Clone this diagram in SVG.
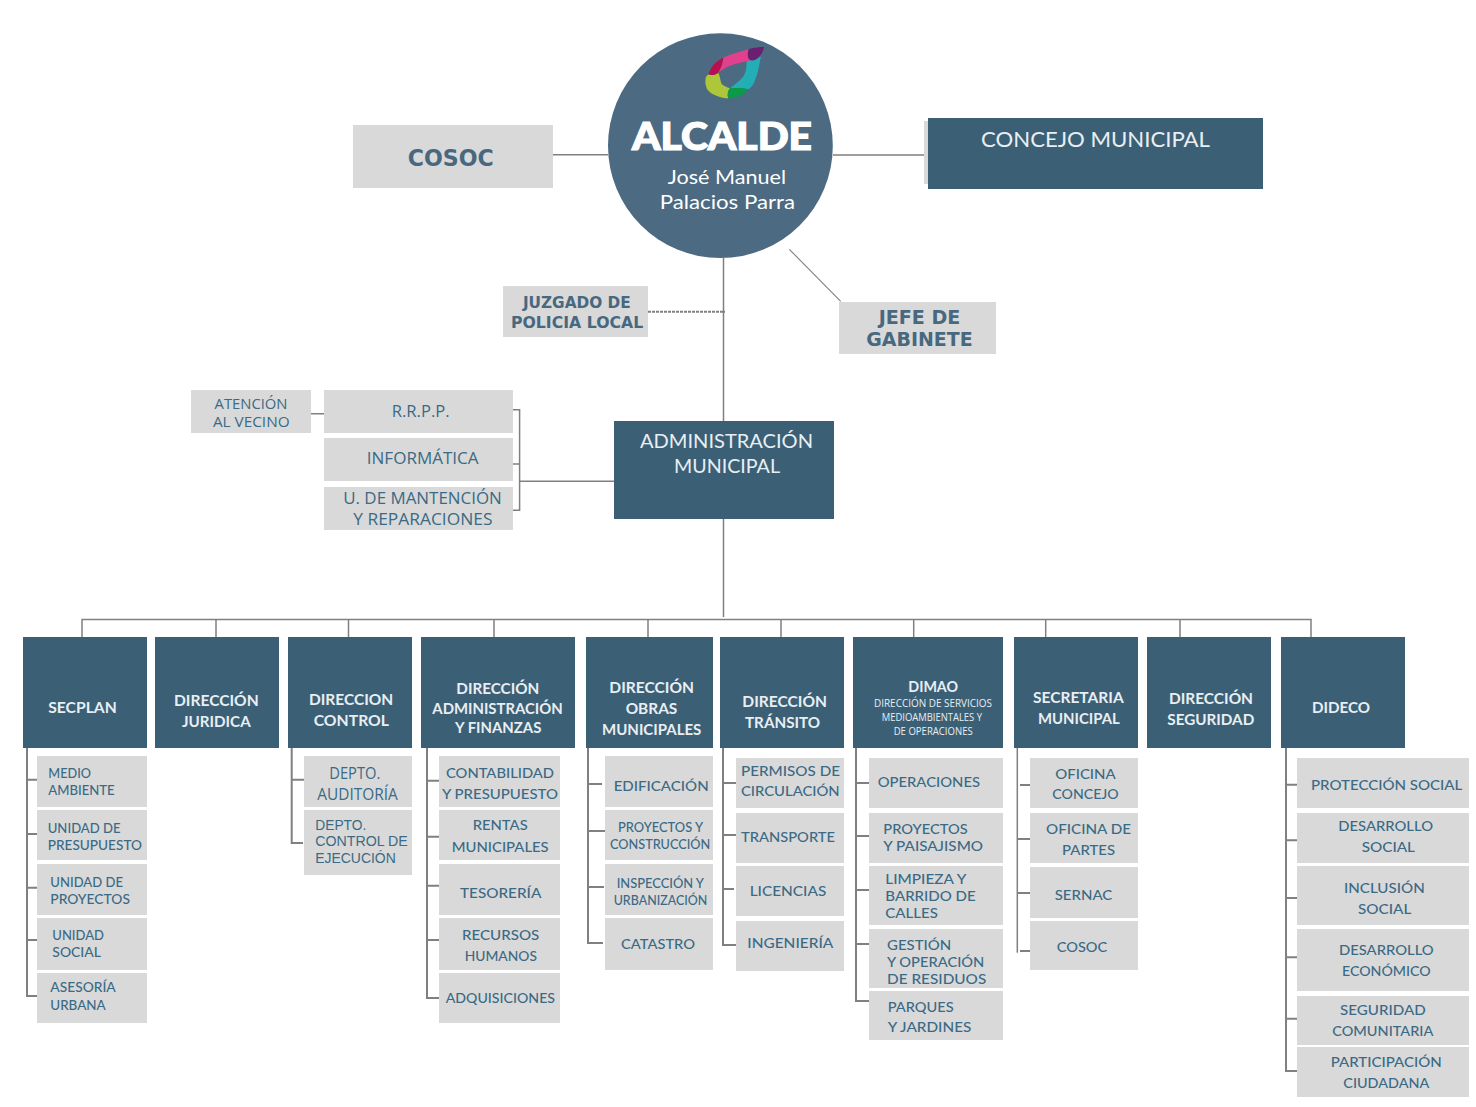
<svg xmlns="http://www.w3.org/2000/svg" width="1476" height="1107" viewBox="0 0 1476 1107">
<style>
.h{fill:#3b6076}.g{fill:#d9d9d9}
text{text-anchor:start}
.hd{font:700 15px Lato,"Liberation Sans",sans-serif;fill:#e9eef3;transform:translateY(.8px)}
.hs{font:400 10px "Open Sans","Liberation Sans",sans-serif;fill:#e9eef3;transform:translateY(.3px)}
.hl{font:400 21px Lato,"Liberation Sans",sans-serif;fill:#e9eef3;transform:translateY(.5px)}
.s{font:500 14px Lato,"Liberation Sans",sans-serif;fill:#3a6a85;transform:translateY(.3px)}
.sm{font:500 12.5px Lato,"Liberation Sans",sans-serif;fill:#3a6a85;transform:translateY(.3px)}
.t{font:400 15.5px "Open Sans","Liberation Sans",sans-serif;fill:#3a6a85}
.a{font:400 15px "Open Sans","Liberation Sans",sans-serif;fill:#3a6a85}
.l{font:400 14px "Liberation Sans",sans-serif;fill:#3a6a85}
.b{font:700 18px "DejaVu Sans",sans-serif;fill:#47687f;transform:translateY(.3px)}
.w{font:400 20px Lato,"Liberation Sans",sans-serif;fill:#fff;transform:translateY(.8px)}
.c{stroke:#808080;stroke-width:1.5;fill:none}
.c1{stroke:#808080;stroke-width:1.1;fill:none}
.d{stroke:#808080;stroke-width:2;stroke-dasharray:3 1;fill:none}
.c2{stroke:#808080;stroke-width:2;fill:none}
</style>
<g id="connectors">
<path class="c" d="M553 154.7H608M833 155H924M723.5 258V617"/>
<path class="c1" d="M789.3 249.3L840.7 301.3"/>
<path class="d" d="M648 311.7H725"/>
<path class="c" d="M311 413.7H324M513 409.7H519.6V510.3H513M513 464H519.6M519.6 481.3H614"/>
<path class="c" d="M82 637V619.5H1311V637M216 619.5V637M348.5 619.5V637M494 619.5V637M648 619.5V637M781 619.5V637M913.7 619.5V637M1045.7 619.5V637M1180 619.5V637"/>
<path class="c2" d="M27 748V996H37M27 779.7H37M27 834H37M27 887.7H37M27 940H37"/>
<path class="c2" d="M291.7 748V843H303M291.7 779.7H304"/>
<path class="c2" d="M427 748V998H439M427 780.7H439M427 836.7H439M427 885.7H439M427 940H439"/>
<path class="c2" d="M588 748V943H603M588 784H602M588 831H605M588 887H604"/>
<path class="c2" d="M723 748V945H736M723 783H736M723 835H736M723 889H734"/>
<path class="c2" d="M856 748V1001H869M856 783H869M856 836H869M856 890H869M856 944H869"/>
<path class="c" d="M1017.3 748V952.7"/>
<path class="c2" d="M1020 785H1030M1018 839H1030M1018 893H1030M1020 951H1030"/>
<path class="c2" d="M1286 748V1071H1297M1286 784.7H1297M1286 840.3H1297M1286 898H1297M1286 957.3H1297M1286 1018.7H1297"/>
</g>

<g id="alcalde">
<circle cx="720.4" cy="145.7" r="112.4" fill="#4c6a82"/>
<g id="logo" transform="translate(695 35) scale(.3333)">
<path fill="#aec63a" d="M33 125L40 118C50 122 60 120 70 113C76 125 75 135 80 147C88 153 95 157 105 160C98 168 96 180 100 190C80 190 50 180 38 165C30 150 30 135 33 125Z"/>
<path fill="#b8104f" d="M40 118C48 95 62 78 85 68C84 82 80 97 70 113C60 120 50 122 40 118Z"/>
<path fill="#e0408c" d="M85 68C110 55 140 50 162 42C158 55 160 70 170 76L155 79C130 85 105 90 85 102L70 113C80 97 84 82 85 68Z"/>
<path fill="#23aeb5" d="M170 76L198 65C192 90 190 115 178 140C172 155 165 160 160 163C140 158 120 158 105 160C125 145 145 130 150 115C155 100 155 88 155 79Z"/>
<path fill="#0a9a48" d="M105 160C125 158 145 160 160 163C150 178 120 192 100 190C96 180 98 168 105 160Z"/>
<path fill="#6b1f70" d="M162 42C178 37 195 36 207 36C205 50 195 65 185 72C178 78 165 78 160 70C157 58 158 48 162 42Z"/>
</g>
<text x="632" y="150" textLength="180" lengthAdjust="spacingAndGlyphs" style="font:900 38px Lato,'Liberation Sans',sans-serif;fill:#fff;stroke:#fff;stroke-width:1.2px">ALCALDE</text>
<text class="w" x="667.7" y="183.3" textLength="118.3" lengthAdjust="spacingAndGlyphs">José Manuel</text>
<text class="w" x="659.7" y="208.3" textLength="135.3" lengthAdjust="spacingAndGlyphs">Palacios Parra</text>
</g>

<g id="cosoc-top"><rect class="g" x="353" y="125" width="200" height="63"/><text class="b" style="font-size:23px" x="407.7" y="165.7" textLength="86" lengthAdjust="spacingAndGlyphs">COSOC</text></g>
<g id="concejo"><rect class="g" x="924" y="121" width="4" height="63"/><rect class="h" x="928" y="118" width="335" height="71"/><text class="hl" x="981" y="146.7" textLength="229" lengthAdjust="spacingAndGlyphs">CONCEJO MUNICIPAL</text></g>
<g id="juzgado"><rect class="g" x="503" y="286" width="145" height="51"/><text class="b" style="font-size:16.5px" x="522.9" y="308" textLength="107.8" lengthAdjust="spacingAndGlyphs">JUZGADO DE</text><text class="b" style="font-size:16.5px" x="511" y="327.3" textLength="132.2" lengthAdjust="spacingAndGlyphs">POLICIA LOCAL</text></g>
<g id="jefe"><rect class="g" x="839" y="302" width="157" height="52"/><text class="b" style="font-size:20px" x="878.7" y="324" textLength="81.6" lengthAdjust="spacingAndGlyphs">JEFE DE</text><text class="b" style="font-size:20px" x="866.3" y="345.7" textLength="106.4" lengthAdjust="spacingAndGlyphs">GABINETE</text></g>
<g id="atencion"><rect class="g" x="191" y="390" width="120" height="43"/><text class="a" x="214.6" y="409.3" textLength="72.9" lengthAdjust="spacingAndGlyphs">ATENCIÓN</text><text class="a" x="212.9" y="427" textLength="76.7" lengthAdjust="spacingAndGlyphs">AL VECINO</text></g>
<g id="rrpp"><rect class="g" x="324" y="390" width="189" height="43"/><text class="t" x="391.8" y="417" textLength="57.8" lengthAdjust="spacingAndGlyphs">R.R.P.P.</text></g>
<g id="informatica"><rect class="g" x="324" y="438" width="189" height="43"/><text class="t" x="366.8" y="464" textLength="111.8" lengthAdjust="spacingAndGlyphs">INFORMÁTICA</text></g>
<g id="mantencion"><rect class="g" x="324" y="487" width="189" height="43"/><text class="t" x="343.2" y="504" textLength="158.6" lengthAdjust="spacingAndGlyphs">U. DE MANTENCIÓN</text><text class="t" x="353.2" y="525" textLength="139.3" lengthAdjust="spacingAndGlyphs">Y REPARACIONES</text></g>
<g id="administracion"><rect class="h" x="614" y="421" width="220" height="98"/><text class="hl" style="font-size:19.5px" x="640" y="447.7" textLength="173" lengthAdjust="spacingAndGlyphs">ADMINISTRACIÓN</text><text class="hl" style="font-size:19.5px" x="674" y="472.7" textLength="106" lengthAdjust="spacingAndGlyphs">MUNICIPAL</text></g>

<g id="secplan"><rect class="h" x="23" y="637" width="124" height="111"/><text class="hd" x="48.3" y="712.7" textLength="68.4" lengthAdjust="spacingAndGlyphs">SECPLAN</text></g>
<g id="juridica"><rect class="h" x="155" y="637" width="124" height="111"/><text class="hd" x="174" y="705.3" textLength="84.7" lengthAdjust="spacingAndGlyphs">DIRECCIÓN</text><text class="hd" x="182" y="726" textLength="68.7" lengthAdjust="spacingAndGlyphs">JURIDICA</text></g>
<g id="control"><rect class="h" x="288" y="637" width="124" height="111"/><text class="hd" x="309" y="704.7" textLength="84.3" lengthAdjust="spacingAndGlyphs">DIRECCION</text><text class="hd" x="313.7" y="725.3" textLength="75.3" lengthAdjust="spacingAndGlyphs">CONTROL</text></g>
<g id="finanzas"><rect class="h" x="421" y="637" width="154" height="111"/><text class="hd" x="456.3" y="693" textLength="83" lengthAdjust="spacingAndGlyphs">DIRECCIÓN</text><text class="hd" x="432.3" y="713" textLength="130.4" lengthAdjust="spacingAndGlyphs">ADMINISTRACIÓN</text><text class="hd" x="455" y="732" textLength="86.3" lengthAdjust="spacingAndGlyphs">Y FINANZAS</text></g>
<g id="obras"><rect class="h" x="586" y="637" width="127" height="111"/><text class="hd" x="609.3" y="692" textLength="84.7" lengthAdjust="spacingAndGlyphs">DIRECCIÓN</text><text class="hd" x="625.7" y="713" textLength="51.6" lengthAdjust="spacingAndGlyphs">OBRAS</text><text class="hd" x="602" y="734" textLength="99.3" lengthAdjust="spacingAndGlyphs">MUNICIPALES</text></g>
<g id="transito"><rect class="h" x="720" y="637" width="124" height="111"/><text class="hd" x="742.3" y="706" textLength="84.7" lengthAdjust="spacingAndGlyphs">DIRECCIÓN</text><text class="hd" x="745" y="727" textLength="75" lengthAdjust="spacingAndGlyphs">TRÁNSITO</text></g>
<g id="dimao"><rect class="h" x="853" y="637" width="150" height="111"/><text class="hd" x="908.3" y="691.7" textLength="49.7" lengthAdjust="spacingAndGlyphs">DIMAO</text><text class="hs" x="874" y="707" textLength="118" lengthAdjust="spacingAndGlyphs">DIRECCIÓN DE SERVICIOS</text><text class="hs" x="881.7" y="721" textLength="100.3" lengthAdjust="spacingAndGlyphs">MEDIOAMBIENTALES Y</text><text class="hs" x="893.7" y="735" textLength="79" lengthAdjust="spacingAndGlyphs">DE OPERACIONES</text></g>
<g id="secretaria"><rect class="h" x="1014" y="637" width="124" height="111"/><text class="hd" x="1033" y="702" textLength="90.7" lengthAdjust="spacingAndGlyphs">SECRETARIA</text><text class="hd" x="1038" y="723" textLength="81.7" lengthAdjust="spacingAndGlyphs">MUNICIPAL</text></g>
<g id="seguridad"><rect class="h" x="1147" y="637" width="124" height="111"/><text class="hd" x="1169" y="703" textLength="84" lengthAdjust="spacingAndGlyphs">DIRECCIÓN</text><text class="hd" x="1167.3" y="724" textLength="87" lengthAdjust="spacingAndGlyphs">SEGURIDAD</text></g>
<g id="dideco"><rect class="h" x="1281" y="637" width="124" height="111"/><text class="hd" x="1312" y="712" textLength="58" lengthAdjust="spacingAndGlyphs">DIDECO</text></g>

<g id="medio"><rect class="g" x="37" y="756" width="110" height="51"/><text class="s" x="48.3" y="777.3" textLength="42.7" lengthAdjust="spacingAndGlyphs">MEDIO</text><text class="s" x="48.3" y="794.3" textLength="66.4" lengthAdjust="spacingAndGlyphs">AMBIENTE</text></g>
<g id="presupuesto"><rect class="g" x="37" y="810" width="110" height="50"/><text class="s" x="47.7" y="832.3" textLength="73" lengthAdjust="spacingAndGlyphs">UNIDAD DE</text><text class="s" x="47.7" y="849.3" textLength="94.3" lengthAdjust="spacingAndGlyphs">PRESUPUESTO</text></g>
<g id="proyectos"><rect class="g" x="37" y="864" width="110" height="51"/><text class="s" x="50.3" y="886.3" textLength="72.7" lengthAdjust="spacingAndGlyphs">UNIDAD DE</text><text class="s" x="50.3" y="903.3" textLength="79.7" lengthAdjust="spacingAndGlyphs">PROYECTOS</text></g>
<g id="usocial"><rect class="g" x="37" y="918" width="110" height="52"/><text class="s" x="52.3" y="939.3" textLength="51.7" lengthAdjust="spacingAndGlyphs">UNIDAD</text><text class="s" x="52.3" y="956.3" textLength="48.7" lengthAdjust="spacingAndGlyphs">SOCIAL</text></g>
<g id="asesoria"><rect class="g" x="37" y="973" width="110" height="50"/><text class="s" x="50.3" y="992" textLength="65.4" lengthAdjust="spacingAndGlyphs">ASESORÍA</text><text class="s" x="50.3" y="1009.3" textLength="55.4" lengthAdjust="spacingAndGlyphs">URBANA</text></g>

<g id="auditoria"><rect class="g" x="304" y="756" width="108" height="51"/><text class="t" x="329.3" y="779" textLength="51" lengthAdjust="spacingAndGlyphs">DEPTO.</text><text class="t" x="317.3" y="800" textLength="80.4" lengthAdjust="spacingAndGlyphs">AUDITORÍA</text></g>
<g id="ejecucion"><rect class="g" x="304" y="810" width="108" height="65"/><text class="l" x="315.3" y="830" textLength="51" lengthAdjust="spacingAndGlyphs">DEPTO.</text><text class="l" x="315.3" y="846.3" textLength="92.4" lengthAdjust="spacingAndGlyphs">CONTROL DE</text><text class="l" x="315.3" y="863" textLength="80.4" lengthAdjust="spacingAndGlyphs">EJECUCIÓN</text></g>

<g id="contabilidad"><rect class="g" x="439" y="756" width="121" height="51"/><text class="s" x="446" y="777.3" textLength="108" lengthAdjust="spacingAndGlyphs">CONTABILIDAD</text><text class="s" x="442" y="798.3" textLength="116" lengthAdjust="spacingAndGlyphs">Y PRESUPUESTO</text></g>
<g id="rentas"><rect class="g" x="439" y="810" width="121" height="50"/><text class="s" x="472.7" y="830" textLength="55" lengthAdjust="spacingAndGlyphs">RENTAS</text><text class="s" x="451.7" y="851.3" textLength="97" lengthAdjust="spacingAndGlyphs">MUNICIPALES</text></g>
<g id="tesoreria"><rect class="g" x="439" y="864" width="121" height="51"/><text class="s" x="460" y="898" textLength="81.3" lengthAdjust="spacingAndGlyphs">TESORERÍA</text></g>
<g id="recursos"><rect class="g" x="439" y="918" width="121" height="52"/><text class="s" x="462" y="940" textLength="77.3" lengthAdjust="spacingAndGlyphs">RECURSOS</text><text class="s" x="464.7" y="961" textLength="72.3" lengthAdjust="spacingAndGlyphs">HUMANOS</text></g>
<g id="adquisiciones"><rect class="g" x="439" y="973" width="121" height="50"/><text class="sm" x="445.7" y="1002.3" textLength="109.3" lengthAdjust="spacingAndGlyphs">ADQUISICIONES</text></g>

<g id="edificacion"><rect class="g" x="605" y="756" width="108" height="51"/><text class="s" x="613.7" y="790.3" textLength="95" lengthAdjust="spacingAndGlyphs">EDIFICACIÓN</text></g>
<g id="construccion"><rect class="g" x="605" y="810" width="108" height="50"/><text class="sm" x="618" y="831.3" textLength="85" lengthAdjust="spacingAndGlyphs">PROYECTOS Y</text><text class="sm" x="610" y="849" textLength="100.3" lengthAdjust="spacingAndGlyphs">CONSTRUCCIÓN</text></g>
<g id="inspeccion"><rect class="g" x="605" y="864" width="108" height="51"/><text class="sm" x="616.7" y="887.3" textLength="87.3" lengthAdjust="spacingAndGlyphs">INSPECCIÓN Y</text><text class="sm" x="613.7" y="904.3" textLength="93.6" lengthAdjust="spacingAndGlyphs">URBANIZACIÓN</text></g>
<g id="catastro"><rect class="g" x="605" y="918" width="108" height="52"/><text class="s" x="621" y="949" textLength="74" lengthAdjust="spacingAndGlyphs">CATASTRO</text></g>

<g id="permisos"><rect class="g" x="736" y="758" width="108" height="50"/><text class="s" x="741" y="775.3" textLength="99" lengthAdjust="spacingAndGlyphs">PERMISOS DE</text><text class="s" x="741" y="796" textLength="98.7" lengthAdjust="spacingAndGlyphs">CIRCULACIÓN</text></g>
<g id="transporte"><rect class="g" x="736" y="813" width="108" height="50"/><text class="s" x="741" y="842" textLength="94" lengthAdjust="spacingAndGlyphs">TRANSPORTE</text></g>
<g id="licencias"><rect class="g" x="736" y="866" width="108" height="50"/><text class="s" x="749.7" y="896" textLength="76.6" lengthAdjust="spacingAndGlyphs">LICENCIAS</text></g>
<g id="ingenieria"><rect class="g" x="736" y="921" width="108" height="50"/><text class="s" x="747.3" y="948" textLength="86" lengthAdjust="spacingAndGlyphs">INGENIERÍA</text></g>

<g id="operaciones"><rect class="g" x="869" y="758" width="134" height="50"/><text class="s" x="877.7" y="787" textLength="102.3" lengthAdjust="spacingAndGlyphs">OPERACIONES</text></g>
<g id="paisajismo"><rect class="g" x="869" y="813" width="134" height="50"/><text class="s" x="883.3" y="833.3" textLength="84.4" lengthAdjust="spacingAndGlyphs">PROYECTOS</text><text class="s" x="883.3" y="850.3" textLength="99.7" lengthAdjust="spacingAndGlyphs">Y PAISAJISMO</text></g>
<g id="limpieza"><rect class="g" x="869" y="866" width="134" height="59"/><text class="s" x="885.3" y="883.3" textLength="81" lengthAdjust="spacingAndGlyphs">LIMPIEZA Y</text><text class="s" x="885.3" y="900.3" textLength="90.4" lengthAdjust="spacingAndGlyphs">BARRIDO DE</text><text class="s" x="885.3" y="917.3" textLength="52.7" lengthAdjust="spacingAndGlyphs">CALLES</text></g>
<g id="residuos"><rect class="g" x="869" y="929" width="134" height="59"/><text class="s" x="887" y="949.3" textLength="64.3" lengthAdjust="spacingAndGlyphs">GESTIÓN</text><text class="s" x="887" y="966.3" textLength="97.3" lengthAdjust="spacingAndGlyphs">Y OPERACIÓN</text><text class="s" x="887" y="983.3" textLength="99.3" lengthAdjust="spacingAndGlyphs">DE RESIDUOS</text></g>
<g id="parques"><rect class="g" x="869" y="991" width="134" height="49"/><text class="s" x="887.7" y="1011.3" textLength="66" lengthAdjust="spacingAndGlyphs">PARQUES</text><text class="s" x="887.7" y="1032" textLength="83.6" lengthAdjust="spacingAndGlyphs">Y JARDINES</text></g>

<g id="oficina-concejo"><rect class="g" x="1030" y="758" width="108" height="50"/><text class="s" x="1055.3" y="778.3" textLength="60.4" lengthAdjust="spacingAndGlyphs">OFICINA</text><text class="s" x="1052.3" y="798.3" textLength="66.4" lengthAdjust="spacingAndGlyphs">CONCEJO</text></g>
<g id="oficina-partes"><rect class="g" x="1030" y="813" width="108" height="50"/><text class="s" x="1046" y="833.3" textLength="85" lengthAdjust="spacingAndGlyphs">OFICINA DE</text><text class="s" x="1062" y="854.3" textLength="53" lengthAdjust="spacingAndGlyphs">PARTES</text></g>
<g id="sernac"><rect class="g" x="1030" y="867" width="108" height="51"/><text class="s" x="1054.7" y="899.3" textLength="57.6" lengthAdjust="spacingAndGlyphs">SERNAC</text></g>
<g id="cosoc-sec"><rect class="g" x="1030" y="921" width="108" height="49"/><text class="s" x="1056.7" y="952" textLength="50.6" lengthAdjust="spacingAndGlyphs">COSOC</text></g>

<g id="proteccion"><rect class="g" x="1297" y="758" width="172" height="50"/><text class="s" x="1311" y="789.3" textLength="151.3" lengthAdjust="spacingAndGlyphs">PROTECCIÓN SOCIAL</text></g>
<g id="des-social"><rect class="g" x="1297" y="813" width="172" height="50"/><text class="s" x="1338.3" y="830.3" textLength="94.7" lengthAdjust="spacingAndGlyphs">DESARROLLO</text><text class="s" x="1361.7" y="851.3" textLength="53.3" lengthAdjust="spacingAndGlyphs">SOCIAL</text></g>
<g id="inclusion"><rect class="g" x="1297" y="866" width="172" height="59"/><text class="s" x="1344" y="892.3" textLength="80.7" lengthAdjust="spacingAndGlyphs">INCLUSIÓN</text><text class="s" x="1358" y="913.3" textLength="53.3" lengthAdjust="spacingAndGlyphs">SOCIAL</text></g>
<g id="des-economico"><rect class="g" x="1297" y="929" width="172" height="62"/><text class="s" x="1339" y="954.3" textLength="94.7" lengthAdjust="spacingAndGlyphs">DESARROLLO</text><text class="s" x="1342" y="975.3" textLength="88.7" lengthAdjust="spacingAndGlyphs">ECONÓMICO</text></g>
<g id="seg-comunitaria"><rect class="g" x="1297" y="996" width="172" height="49"/><text class="s" x="1340" y="1014.3" textLength="85.7" lengthAdjust="spacingAndGlyphs">SEGURIDAD</text><text class="s" x="1332.3" y="1035.3" textLength="101" lengthAdjust="spacingAndGlyphs">COMUNITARIA</text></g>
<g id="participacion"><rect class="g" x="1297" y="1047" width="172" height="50"/><text class="s" x="1330.7" y="1066.3" textLength="111" lengthAdjust="spacingAndGlyphs">PARTICIPACIÓN</text><text class="s" x="1343.3" y="1087.3" textLength="86" lengthAdjust="spacingAndGlyphs">CIUDADANA</text></g>
</svg>
